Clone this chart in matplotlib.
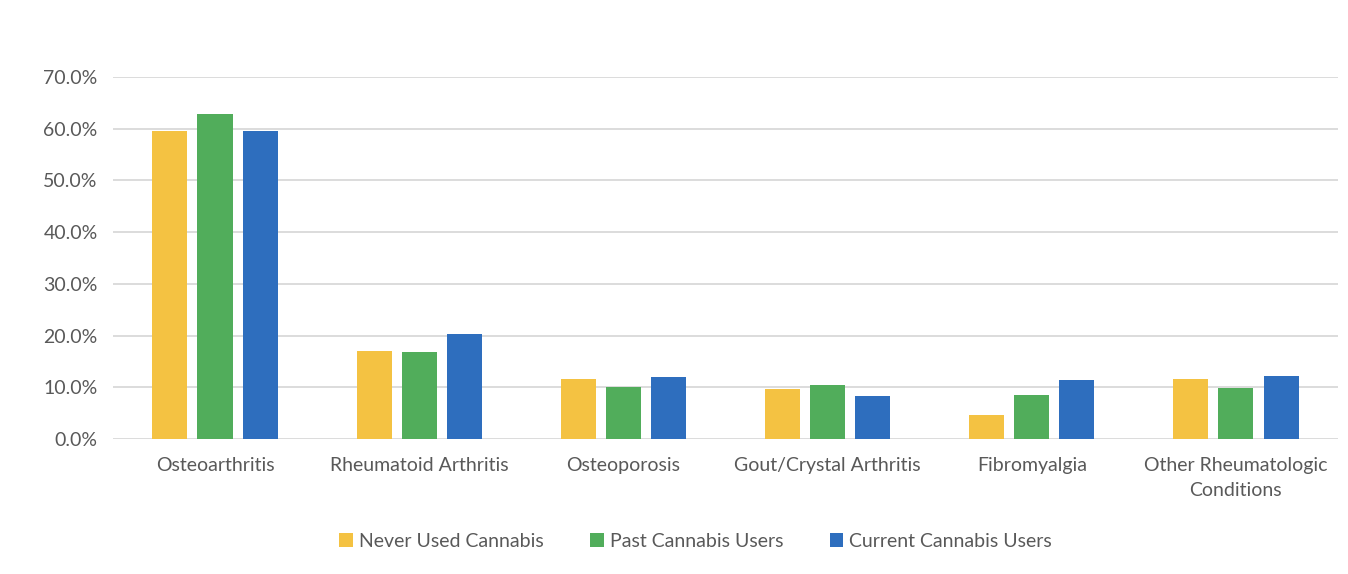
import numpy as np
import matplotlib
matplotlib.use("Agg")
import matplotlib.pyplot as plt
from matplotlib.ticker import PercentFormatter

categories = ["Osteoarthritis", "Rheumatoid Arthritis", "Osteoporosis",
              "Gout/Crystal Arthritis", "Fibromyalgia", "Other Rheumatologic\nConditions"]
never_used = [59.5, 17.0, 11.6, 9.7, 4.6, 11.6]
past_users = [62.9, 16.8, 10.1, 10.4, 8.5, 9.9]
current_users = [59.6, 20.3, 12.0, 8.3, 11.4, 12.2]
series_names = ["Never Used Cannabis", "Past Cannabis Users", "Current Cannabis Users"]
colors = ["#F4C242", "#51AD5B", "#2E6EBE"]

plt.rcParams["font.family"] = ["Lato", "DejaVu Sans"]
text_color = "#595959"

fig = plt.figure(figsize=(13.48, 5.74), dpi=100)
ax = fig.add_axes([0.0838, 0.235, 0.9088, 0.631])

x = np.arange(len(categories))
width = 0.172
step = 0.221
for i, (vals, name, c) in enumerate(zip([never_used, past_users, current_users], series_names, colors)):
    ax.bar(x + (i - 1) * step, vals, width, color=c, label=name, zorder=3)

ax.set_xlim(-0.5, len(categories) - 0.5)
ax.set_ylim(0, 70)
ax.set_yticks(np.arange(0, 71, 10))
ax.yaxis.set_major_formatter(PercentFormatter(decimals=1))
ax.set_xticks(x)
ax.set_xticklabels(categories, linespacing=1.55)
ax.grid(axis="y", color="#D9D9D9", linewidth=1.3, zorder=0)
for s in ax.spines.values():
    s.set_visible(False)
ax.tick_params(axis="both", length=0, labelsize=14, colors=text_color)
ax.tick_params(axis="x", pad=13)
ax.tick_params(axis="y", pad=11)

leg = fig.legend(loc="center", bbox_to_anchor=(0.516, 0.057), ncol=3, frameon=False,
                 fontsize=14, handlelength=0.7, handleheight=0.7, handletextpad=0.3,
                 columnspacing=2.4)
for t in leg.get_texts():
    t.set_color(text_color)

fig.savefig("out.png", dpi=100)
